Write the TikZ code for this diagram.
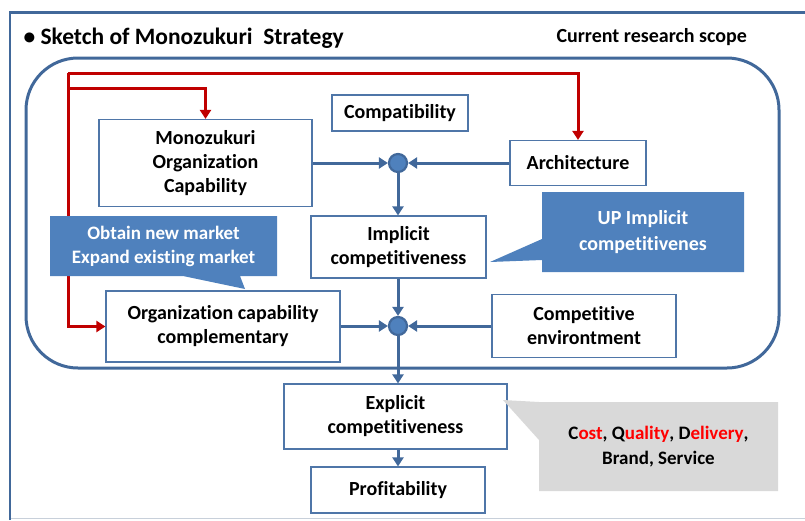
\documentclass[tikz,border=0pt]{standalone}
\usepackage{fontspec}
\setmainfont{Carlito}[Ligatures=NoCommon,RawFeature=-liga]
\usetikzlibrary{arrows.meta,calc}
\definecolor{frameblue}{HTML}{41689A}
\definecolor{boxline}{HTML}{4F76A8}
\definecolor{fillblue}{HTML}{4F81BD}
\definecolor{darkred}{HTML}{C00000}
\definecolor{callgray}{HTML}{D9D9D9}
\definecolor{lightline}{HTML}{C8D0DA}
\tikzset{
  box/.style={draw=boxline, line width=1.2pt, fill=white, align=center, inner sep=0pt,
    font=\fontsize{20}{24}\selectfont\bfseries},
  hub/.style={circle, draw=frameblue, line width=2.2pt, fill=fillblue, minimum size=18pt, inner sep=0pt},
  barrow/.style={draw=frameblue, line width=3pt, -{Triangle[length=9pt,width=11pt]}},
  rarrow/.style={draw=darkred, line width=3pt, -{Triangle[length=9pt,width=11pt]}},
  calltext/.style={align=center, text=white, font=\fontsize{19}{24}\selectfont\bfseries},
}
\begin{document}
\begin{tikzpicture}[x=1pt,y=-1pt]
\useasboundingbox (0,0) rectangle (805,520);
% outer frame
\draw[lightline, line width=1.5pt] (10,518.5) -- (805,518.5);
\draw[frameblue, line width=2.8pt] (10,520) -- (10,12.5) -- (806,12.5);
% titles
\node[anchor=west, font=\fontsize{23.5}{28}\selectfont\bfseries] (title) at (20,38) {\textbullet\ Sketch of Monozukuri\ \ Strategy};
\node[anchor=west, font=\fontsize{20}{24}\selectfont\bfseries] (scope) at (553,37) {Current research scope};
% scope rounded rectangle
\draw[frameblue, line width=3pt, rounded corners=52pt] (26,58) rectangle (779,368);

% boxes
\node[box, minimum width=213pt, minimum height=87pt] (mono) at (205.5,163) {Monozukuri\\Organization\\Capability};
\node[box, minimum width=136pt, minimum height=36pt] (compat) at (400,113) {Compatibility};
\node[box, minimum width=136pt, minimum height=45pt] (arch) at (578,163) {Architecture};
\node[box, minimum width=175pt, minimum height=62pt] (impl) at (398.5,247) {Implicit\\competitiveness};
\node[box, minimum width=234pt, minimum height=71pt] (orgc) at (223,326.5) {Organization capability\\complementary};
\node[box, minimum width=184pt, minimum height=63pt] (cenv) at (584,326) {Competitive\\environtment};
\node[box, minimum width=223pt, minimum height=65pt] (expl) at (395.5,416.5) {Explicit\\competitiveness};
\node[box, minimum width=174pt, minimum height=46pt] (prof) at (398,490) {Profitability};

% hubs
\node[hub] (c1) at (398,163) {};
\node[hub] (c2) at (398,326) {};

% blue arrows
\draw[barrow] (mono.east) -- (c1.west);
\draw[barrow] (arch.west) -- (c1.east);
\draw[barrow] (c1.south) -- (c1.south |- impl.north);
\draw[barrow] (c2.north |- impl.south) -- (c2.north);
\draw[barrow] (orgc.east |- c2) -- (c2.west);
\draw[barrow] (cenv.west |- c2) -- (c2.east);
\draw[barrow] (c2.south) -- (c2.south |- expl.north);
\draw[barrow] (prof.north |- expl.south) -- (prof.north);

% red feedback lines
\coordinate (ra) at (68,73);
\coordinate (rb) at (68,88);
\draw[rarrow] (ra) -| (arch.north);
\draw[rarrow] (ra) |- (orgc.west);
\draw[rarrow] (rb) -| (mono.north);

% callout: obtain new market
\fill[fillblue] (50,216) -- (277,216) -- (277,276) -- (240,276) -- (245,289) -- (183,276) -- (50,276) -- cycle;
\node[calltext] (market) at (163.5,246) {Obtain new market\\Expand existing market};

% callout: UP implicit
\fill[fillblue] (542,192) -- (744,192) -- (744,272) -- (542,272) -- (542,260) -- (490,262) -- (542,239) -- cycle;
\node[calltext, font=\fontsize{20}{26}\selectfont\bfseries] (upimpl) at (643,232) {UP Implicit\\competitivenes};

% callout: gray
\fill[callgray] (539,402) -- (778,402) -- (778,491) -- (539,491) -- (539,440) -- (503,400) -- cycle;
\node[align=center, font=\fontsize{19}{25}\selectfont\bfseries] (qcd) at (658.5,447) {C\textcolor{red}{ost}, Q\textcolor{red}{uality}, D\textcolor{red}{elivery},\\Brand, Service};
\end{tikzpicture}
\end{document}
